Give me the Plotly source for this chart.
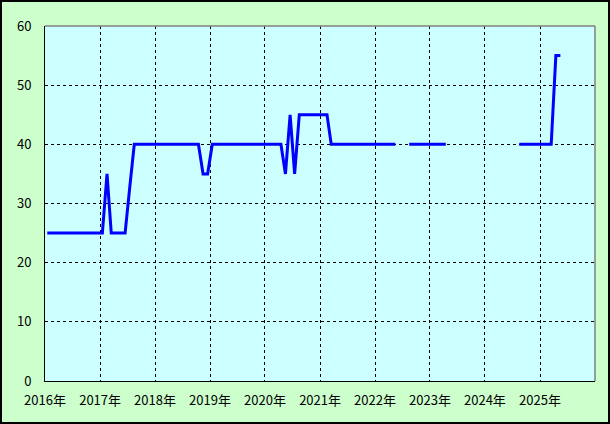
import plotly.graph_objects as go

years = [2016, 2017, 2018, 2019, 2020, 2021, 2022, 2023, 2024, 2025]
tick_labels = [f"{y}年" for y in years]

N = None
v2016 = [25, 25, 25, 25, 25, 25, 25, 25, 25, 25, 25, 25]
v2017 = [25, 35, 25, 25, 25, 25, 32.5, 40, 40, 40, 40, 40]
v2018 = [40, 40, 40, 40, 40, 40, 40, 40, 40, 40, 35, 35]
v2019 = [40, 40, 40, 40, 40, 40, 40, 40, 40, 40, 40, 40]
v2020 = [40, 40, 40, 40, 35, 45, 35, 45, 45, 45, 45, 45]
v2021 = [45, 45, 40, 40, 40, 40, 40, 40, 40, 40, 40, 40]
v2022 = [40, 40, 40, 40, 40, N, N, 40, 40, 40, 40, 40]
v2023 = [40, 40, 40, 40, N, N, N, N, N, N, N, N]
v2024 = [N, N, N, N, N, N, N, 40, 40, 40, 40, 40]
v2025 = [40, 40, 40, 55, 55]

yearly = [v2016, v2017, v2018, v2019, v2020, v2021, v2022, v2023, v2024, v2025]
dates, values = [], []
for y, vals in zip(years, yearly):
    for m, v in enumerate(vals):
        dates.append(f"{y}-{m+1:02d}-16")
        values.append(v)

fig = go.Figure()
fig.add_trace(go.Scatter(x=dates, y=values, mode="lines",
                         line=dict(color="#0000ff", width=3),
                         connectgaps=False, hoverinfo="skip"))

font = dict(family="Noto Sans CJK JP, sans-serif", size=13, color="black")
fig.update_layout(
    width=610, height=424,
    margin=dict(l=45, r=15, t=26, b=43),
    paper_bgcolor="#ccffcc", plot_bgcolor="#ccffff",
    showlegend=False, font=font,
    xaxis=dict(type="date", range=["2016-01-01", "2026-01-01"],
               tickvals=[f"{y}-01-01" for y in years], ticktext=tick_labels,
               showgrid=True, gridcolor="black", griddash="3px,3px", gridwidth=1,
               showline=True, linecolor="black", linewidth=1,
               ticks="", ticklabelstandoff=7, zeroline=False, tickfont=font),
    yaxis=dict(range=[0, 60], tickvals=[0, 10, 20, 30, 40, 50, 60],
               showgrid=True, gridcolor="black", griddash="3px,3px", gridwidth=1,
               showline=True, linecolor="black", linewidth=1,
               ticks="", ticklabelstandoff=10, zeroline=False, tickfont=font),
)
# top and right gray frame of plot area
fig.add_shape(type="line", xref="paper", yref="paper", x0=0, x1=1, y0=1, y1=1,
              line=dict(color="#808080", width=1.5))
fig.add_shape(type="line", xref="paper", yref="paper", x0=1, x1=1, y0=0, y1=1,
              line=dict(color="#808080", width=1.5))
# outer border
fig.add_shape(type="rect", xref="paper", yref="paper",
              x0=(1 - 45) / 550, x1=(609 - 45) / 550,
              y0=(381 - 423) / 355, y1=(381 - 1) / 355,
              line=dict(color="black", width=2))

fig.write_html("out.html", config={"displayModeBar": False},
               post_script="document.body.style.margin='0';document.body.style.overflow='hidden';")
